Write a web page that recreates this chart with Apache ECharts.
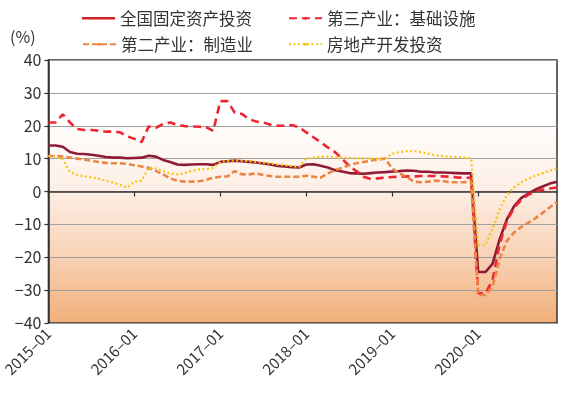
<!DOCTYPE html>
<html>
<head>
<meta charset="utf-8">
<script src="https://cdn.jsdelivr.net/npm/echarts@6/dist/echarts.min.js"></script>
<style>
html,body{margin:0;padding:0;background:#fff;}
#c{width:566px;height:393px;}
</style>
</head>
<body>
<div id="c"></div>
<script>
// ---- data ----
const years = [2015, 2016, 2017, 2018, 2019, 2020];
const monthNames = ['01','02','03','04','05','06','07','08','09','10','11','12'];
const categories = [];
years.forEach(y => monthNames.forEach(m => categories.push(y + '-' + m)));

const seriesNames = ['全国固定资产投资', '第三产业：基础设施', '第二产业：制造业', '房地产开发投资'];

const fixedAsset = [
  14.0,14.0,13.6,12.0,11.5,11.4,11.2,10.9,10.5,10.3,10.3,10.1,
  10.2,10.3,10.9,10.6,9.6,9.0,8.2,8.1,8.2,8.3,8.3,8.1,
  9.0,9.2,9.4,9.2,9.0,8.8,8.5,8.2,7.8,7.6,7.4,7.3,
  8.2,8.3,7.8,7.3,6.5,6.1,5.6,5.5,5.4,5.6,5.8,5.9,
  6.1,6.2,6.4,6.3,6.0,6.0,5.8,5.8,5.7,5.6,5.5,5.5,
  -24.5,-24.5,-22.0,-14.5,-8.5,-4.5,-2.0,-0.6,0.6,1.5,2.4,3.0
];
const infrastructure = [
  21.0,21.0,23.5,21.0,19.0,18.7,18.7,18.5,18.2,18.2,18.0,16.8,
  16.0,15.0,19.8,19.4,20.5,21.0,20.2,19.9,19.8,19.7,19.6,18.4,
  27.5,27.5,24.0,23.6,22.0,21.3,21.0,20.3,20.0,20.0,20.2,19.5,
  18.0,16.5,15.0,13.4,12.0,10.0,7.7,6.2,4.5,3.8,4.0,4.2,
  4.4,4.5,4.6,4.6,4.7,4.7,4.7,4.6,4.5,4.3,4.2,4.2,
  -31.0,-31.0,-27.0,-16.0,-9.0,-5.0,-2.5,-1.0,0.0,0.5,0.9,1.2
];
const manufacturing = [
  10.8,10.8,10.6,10.3,10.0,9.7,9.4,9.0,8.7,8.6,8.6,8.4,
  8.0,7.6,7.2,6.3,5.2,4.0,3.3,3.0,3.0,3.1,3.5,4.2,
  4.5,4.6,6.2,5.2,5.2,5.5,5.0,4.7,4.5,4.5,4.5,4.5,
  4.8,4.5,4.2,5.5,6.5,7.2,8.0,8.6,9.0,9.4,9.7,10.0,
  7.0,5.5,4.5,3.0,2.8,3.0,3.3,3.2,2.8,2.8,2.8,3.1,
  -31.5,-31.5,-29.0,-20.5,-15.0,-12.5,-10.8,-9.5,-8.1,-6.5,-4.8,-3.3
];
const realEstate = [
  10.8,10.6,9.8,6.0,5.0,4.6,4.3,3.9,3.3,2.7,2.0,1.2,
  3.0,3.3,7.2,7.0,6.2,5.5,5.2,5.5,6.3,6.7,6.8,7.2,
  9.0,9.3,9.5,9.4,9.2,9.0,8.8,8.5,8.2,8.0,7.7,7.5,
  10.0,10.3,10.6,10.6,10.4,10.3,10.2,10.1,10.1,10.0,10.0,10.0,
  11.5,12.0,12.3,12.3,12.0,11.5,11.0,10.8,10.6,10.5,10.3,10.1,
  -16.3,-16.3,-11.5,-5.5,-1.0,1.2,2.8,3.9,4.8,5.6,6.3,7.0
];
const yTicks = [-40, -30, -20, -10, 0, 10, 20, 30, 40];

// ---- chart ----
const FONT = '"Noto Sans CJK SC", "Noto Sans", sans-serif';
const chart = echarts.init(document.getElementById('c'), null, {renderer: 'canvas'});

function legendAt(item, left, top, h) {
  return {
    left: left, top: top, orient: 'horizontal',
    data: [item],
    itemWidth: 33, itemHeight: h || 4, itemGap: 5,
    textStyle: {fontFamily: FONT, fontSize: 16.5, color: '#333'},
    selectedMode: false
  };
}

chart.setOption({
  animation: false,
  backgroundColor: '#ffffff',
  textStyle: {fontFamily: FONT},
  legend: [
    legendAt({name: seriesNames[0], icon: 'rect', itemStyle: {color: '#D42027'}}, 77, 5, 2.6),
    legendAt({name: seriesNames[1]}, 283, 5),
    legendAt({name: seriesNames[2]}, 77, 31),
    legendAt({name: seriesNames[3]}, 283, 31)
  ],
  graphic: [{
    type: 'text', left: 10, top: 29,
    style: {text: '(%)', font: '16px ' + FONT, fill: '#333'}
  }],
  grid: {
    left: 45, right: 9, top: 60, bottom: 70,
    show: true,
    borderColor: '#333', borderWidth: 1.5,
    backgroundColor: new echarts.graphic.LinearGradient(0, 0, 0, 1, [
      {offset: 0, color: '#ffffff'},
      {offset: 0.22, color: '#ffffff'},
      {offset: 0.5, color: '#FDEEE4'},
      {offset: 0.75, color: '#F8D1B4'},
      {offset: 1, color: '#F0AF79'}
    ])
  },
  xAxis: {
    type: 'category',
    data: categories,
    boundaryGap: false,
    axisLine: {lineStyle: {color: '#333', width: 1.5}},
    axisTick: {
      show: true, length: 5, inside: false,
      interval: (i) => i % 12 === 0,
      lineStyle: {color: '#333', width: 1.2}
    },
    axisLabel: {
      interval: (i) => i % 12 === 0,
      rotate: 45,
      margin: 8,
      fontFamily: FONT, fontSize: 15, color: '#333',
      formatter: (v) => v.replace('-', '\u2013')
    },
    splitLine: {show: false}
  },
  yAxis: {
    type: 'value',
    min: yTicks[0], max: yTicks[yTicks.length - 1], interval: 10,
    axisLine: {show: true, lineStyle: {color: '#333', width: 1.5}},
    axisTick: {show: true, length: 4, inside: false, lineStyle: {color: '#333', width: 1.2}},
    axisLabel: {
      margin: 7,
      fontFamily: FONT, fontSize: 16, color: '#333',
      formatter: (v) => String(v).replace('-', '\u2212')
    },
    splitLine: {show: true, lineStyle: {color: '#a0a0a0', width: 1.2}}
  },
  series: [
    {
      name: seriesNames[0], type: 'line', data: fixedAsset, symbol: 'none',
      lineStyle: {color: '#8E1B35', width: 2.6, type: 'solid'},
      itemStyle: {color: '#8E1B35'}
    },
    {
      name: seriesNames[1], type: 'line', data: infrastructure, symbol: 'none',
      lineStyle: {color: '#EE2530', width: 2.6, type: [8, 5]},
      itemStyle: {color: '#EE2530'}
    },
    {
      name: seriesNames[2], type: 'line', data: manufacturing, symbol: 'none',
      lineStyle: {color: '#EA8647', width: 2.6, type: [6, 3]},
      itemStyle: {color: '#EA8647'}
    },
    {
      name: seriesNames[3], type: 'line', data: realEstate, symbol: 'none',
      lineStyle: {color: '#F5C510', width: 2.2, type: [2, 2.5]},
      itemStyle: {color: '#F5C510'}
    }
  ]
});
</script>
</body>
</html>
